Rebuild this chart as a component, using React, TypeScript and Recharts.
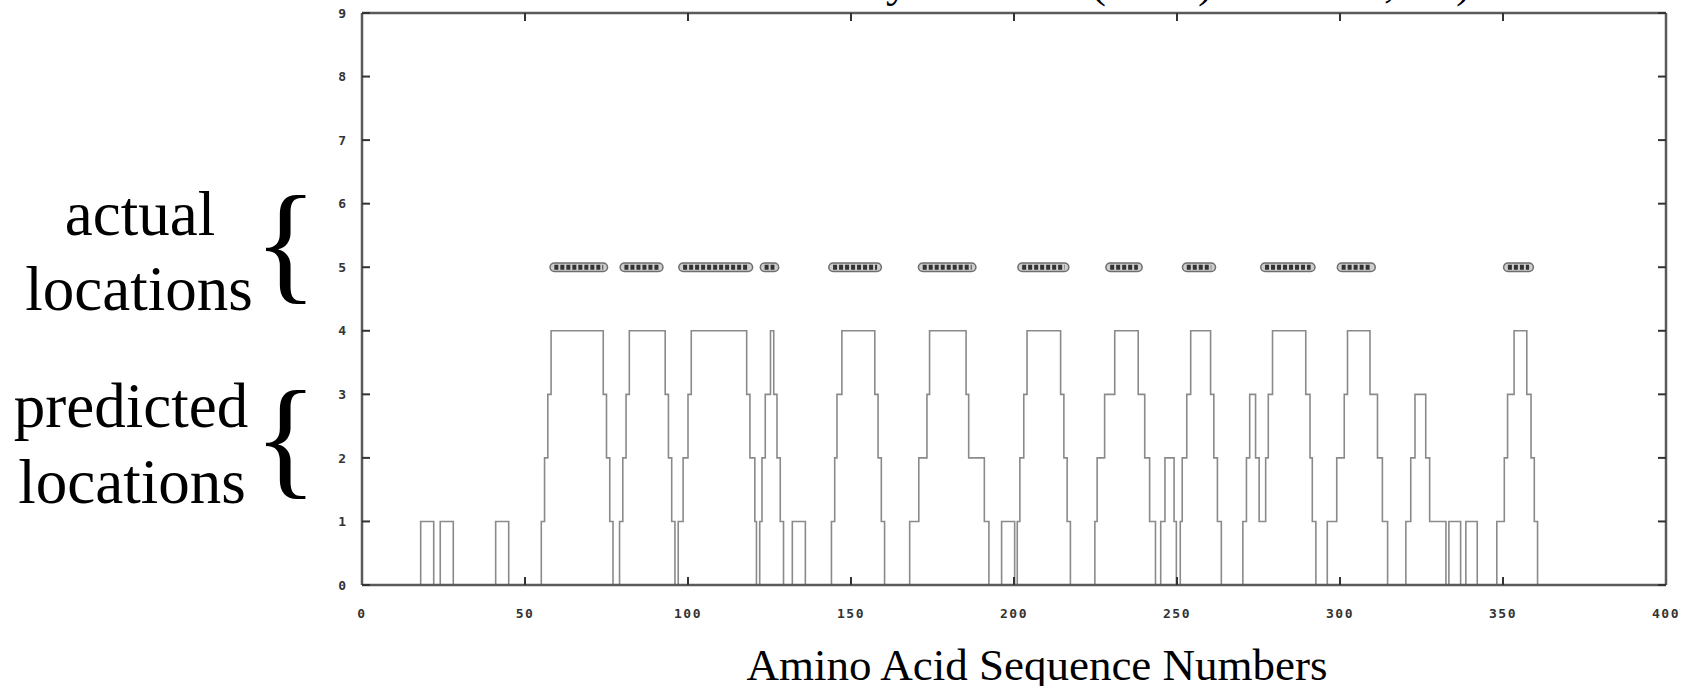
import React from 'react';
import { LineChart, Line, XAxis, YAxis } from 'recharts';

// predicted profile: [residue where the level starts, level]
const PREDICTED: [number, number][] = [
  [0, 0],
  [18, 1], [22, 0], [24, 1], [28, 0],
  [41, 1], [45, 0],
  [55, 1], [56, 2], [57, 3], [58, 4], [74, 3], [75, 2], [76, 1], [77, 0],
  [79, 1], [80, 2], [81, 3], [82, 4], [93, 3], [94, 2], [95, 1], [96, 0],
  [97, 1], [98.5, 2], [100, 3], [101, 4], [118, 3], [119, 2], [120.5, 1], [121, 0], [122, 1],
  [122.7, 2], [123.7, 3], [125.3, 4], [126.3, 3], [127.3, 2], [128.3, 1], [129.3, 0],
  [132, 1], [136, 0],
  [144, 1], [145, 2], [145.7, 3], [147.2, 4], [157.3, 3], [158.3, 2], [159.3, 1], [160.3, 0],
  [168, 1], [170.8, 2], [173.3, 3], [174.1, 4], [185.3, 3], [186.1, 2], [190.9, 1], [192.3, 0],
  [196.2, 1], [200.2, 0], [201, 1], [201.8, 2], [203, 3], [204, 4], [214.3, 3], [215.3, 2], [216.3, 1], [217.3, 0],
  [224.8, 1], [225.5, 2], [227.8, 3], [230.9, 4], [238.1, 3], [240.1, 2], [241.6, 1], [243.4, 0],
  [245, 1], [246.3, 2], [249.1, 1], [249.8, 0], [251, 1], [251.6, 2], [253, 3], [254.2, 4],
  [260.3, 3], [261.3, 2], [262.4, 1], [263.6, 0],
  [270.2, 1], [271.3, 2], [272.3, 3], [274.1, 2], [275.2, 1], [277.2, 2], [278, 3], [279.3, 4],
  [289.5, 3], [290.8, 2], [291.5, 1], [292.6, 0],
  [296.1, 1], [299, 2], [301.3, 3], [302.3, 4], [309.2, 3], [311.5, 2], [313, 1], [314.6, 0],
  [320.2, 1], [321.7, 2], [323, 3], [326.3, 2], [327.5, 1], [332.5, 0], [333.4, 1], [337, 0], [338.6, 1], [342.1, 0],
  [348.1, 1], [350.4, 2], [351.4, 3], [353.4, 4], [357.3, 3], [358.6, 2], [359.6, 1], [360.6, 0],
];

// actual locations: [start, end] residues, drawn at level 5
const ACTUAL: [number, number][] = [
  [59, 74], [80.5, 91], [98.5, 118.5], [123.5, 126.5], [144.5, 158], [172, 187],
  [202.5, 215.5], [229.5, 238], [253, 260.5], [277, 291], [300.5, 309.5], [351.5, 358],
];
const ACTUAL_LEVEL = 5;

const X_TICKS = [0, 50, 100, 150, 200, 250, 300, 350, 400];
const Y_TICKS = [0, 1, 2, 3, 4, 5, 6, 7, 8, 9];

// bottoms of the cropped title line at the very top
const TITLE_BITS: [string, number][] = [['y', 886], ['(', 1091], [')', 1198], [',', 1384], [')', 1456]];

const predictedData = PREDICTED.map(([x, v]) => ({ x, v }));

const axisLine = { stroke: '#5a5a5a', strokeWidth: 2.5 };
const tickLine = { stroke: '#333', strokeWidth: 2 };
const tickFont = { fill: '#333', fontSize: 13, fontWeight: 700, fontFamily: '"DejaVu Sans Mono", monospace' };
const noLabel = () => <g />;

export default function App() {
  return (
    <div style={{ position: 'absolute', left: 0, top: 0, width: 1703, height: 686, background: '#fff', overflow: 'hidden' }}>
      <LineChart width={1703} height={686} margin={{ top: 12, right: 36, bottom: 61, left: 312 }}>
        <XAxis dataKey="x" type="number" domain={[0, 400]} ticks={X_TICKS} height={40}
          tickSize={-8} tickMargin={32} axisLine={axisLine} tickLine={tickLine}
          tick={{ ...tickFont, letterSpacing: 1.5 }} allowDataOverflow />
        <XAxis xAxisId="top" orientation="top" dataKey="x" type="number" domain={[0, 400]} ticks={X_TICKS} height={1}
          tickSize={-8} axisLine={axisLine} tickLine={tickLine} tick={noLabel} allowDataOverflow />
        <YAxis type="number" domain={[0, 9]} ticks={Y_TICKS} width={50}
          tickSize={-8} tickMargin={24} axisLine={axisLine} tickLine={tickLine} tick={tickFont} allowDataOverflow />
        <YAxis yAxisId="right" orientation="right" type="number" domain={[0, 9]} ticks={Y_TICKS} width={1}
          tickSize={-8} axisLine={axisLine} tickLine={tickLine} tick={noLabel} allowDataOverflow />

        <Line data={predictedData} dataKey="v" type="stepAfter" stroke="#8a8a8a" strokeWidth={1.6}
          dot={false} isAnimationActive={false} />
        {/* keeps the mirrored top/right axes attached to a series */}
        <Line data={predictedData} dataKey="v" xAxisId="top" yAxisId="right" stroke="none"
          dot={false} isAnimationActive={false} />

        {ACTUAL.map(([a, b], i) => {
          const seg = [{ x: a, v: ACTUAL_LEVEL }, { x: b, v: ACTUAL_LEVEL }];
          return (
            <React.Fragment key={i}>
              <Line data={seg} dataKey="v" stroke="#6e6e6e" strokeWidth={10} strokeLinecap="round"
                dot={false} isAnimationActive={false} />
              <Line data={seg} dataKey="v" stroke="#cfcfcf" strokeWidth={7} strokeLinecap="round"
                dot={false} isAnimationActive={false} />
              <Line data={seg} dataKey="v" stroke="#333" strokeWidth={5} strokeDasharray="4 2"
                dot={false} isAnimationActive={false} />
            </React.Fragment>
          );
        })}
      </LineChart>

      <svg width={1703} height={686} style={{ position: 'absolute', left: 0, top: 0, pointerEvents: 'none' }}>
        <g fontFamily='"Liberation Serif", "Times New Roman", serif' fill="#000">
          {TITLE_BITS.map(([ch, x], i) => (
            <text key={i} x={x} y={-3} fontSize={45}>{ch}</text>
          ))}
          <text x={140} y={235} fontSize={63} textAnchor="middle">actual</text>
          <text x={139} y={310} fontSize={63} textAnchor="middle">locations</text>
          <text x={254} y={286} fontSize={132}>{'{'}</text>
          <text x={131} y={427} fontSize={63} textAnchor="middle">predicted</text>
          <text x={132} y={503} fontSize={63} textAnchor="middle">locations</text>
          <text x={254} y={481} fontSize={132}>{'{'}</text>
          <text x={1037} y={680} fontSize={45} textAnchor="middle">Amino Acid Sequence Numbers</text>
        </g>
      </svg>
    </div>
  );
}
